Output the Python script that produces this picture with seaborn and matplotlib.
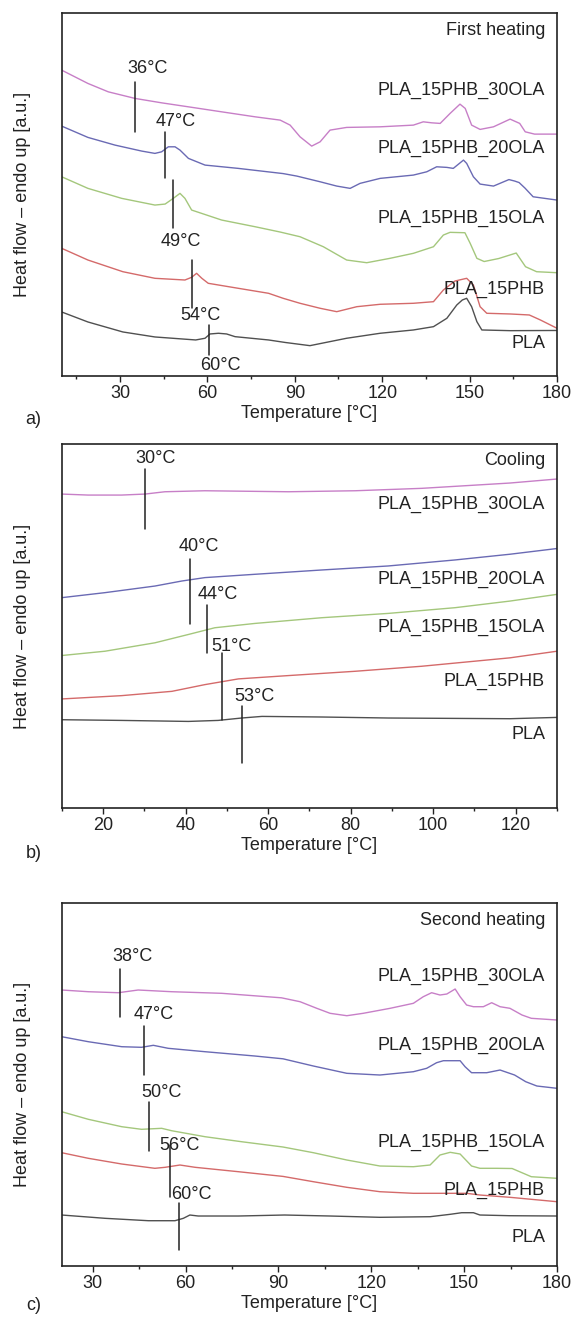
import numpy as np
import pandas as pd
import matplotlib
matplotlib.use('Agg')
import matplotlib.pyplot as plt
from matplotlib.ticker import AutoMinorLocator
import seaborn as sns

# DSC curves: temperature [degC] and heat flow [a.u.]
samples = ['PLA', 'PLA_15PHB', 'PLA_15PHB_15OLA', 'PLA_15PHB_20OLA', 'PLA_15PHB_30OLA']
colors = ['#505050', '#d46a6a', '#a4c77c', '#6a6ab4', '#c77fc7']

# a) first heating
a_pla_T = [10, 19, 31, 42, 56, 59.2, 60.9, 63.8, 66.6, 69.5, 81, 86.7, 95.2, 107.8, 119.3, 130.7,
           137.6, 142.2, 145.6, 147.5, 149, 150.7, 152.5, 154.2, 164, 180]
a_pla_hf = [64, 54, 44, 39, 36, 37.7, 42, 42.7, 42, 39.3, 36, 33.5, 30.3, 37.7, 42.7, 46,
            49.3, 57.7, 71, 76, 77.7, 69.3, 54.3, 46, 45.3, 45.5]
a_phb_T = [10, 19, 31, 42, 52.3, 54.6, 56.3, 58.1, 60.3, 70.6, 81, 86, 91.8, 98.7, 104.4, 111.3,
           119.3, 130.7, 137.6, 141, 145, 149, 151.3, 153.6, 155.9, 164, 170.5, 174.3, 180]
a_phb_hf = [127.7, 116, 104.3, 97.7, 96, 98.7, 102.7, 97.7, 92.7, 87.7, 82.7, 77.7, 72.7, 67.7, 64.3, 69.3,
            71.7, 72.7, 74.3, 86, 95, 97.7, 91, 69.3, 62.7, 62, 61, 56, 47.7]
a_15ola_T = [10, 19, 30.6, 42, 45.5, 48.3, 50.6, 52.3, 54.6, 64.9, 76.4, 85, 91.8, 99.8, 107.8, 114.7,
             122.7, 130.7, 137.6, 141, 143.3, 148.4, 150.2, 152.5, 155, 160, 166, 169.2, 173, 180]
a_15ola_hf = [199.3, 187.7, 177.7, 171, 172, 177.7, 182.7, 177.7, 166, 156, 149.3, 144, 139.3, 129.3, 116, 113.3,
              117.7, 122.7, 129.3, 141, 143.7, 143.3, 132.7, 117.7, 114.5, 117.5, 123, 109.3, 104.3, 103.3]
a_20ola_T = [10, 19, 28.3, 37.5, 42, 44.3, 46.6, 48.9, 50.6, 53.5, 59.2, 70.6, 86, 90.7, 98.7, 104.4, 109,
             112.4, 119.3, 130.7, 135.3, 138.7, 142.2, 144.4, 147.9, 149, 151.3, 153.6, 158.2, 163.5, 165.5,
             167, 169, 171.8, 180]
a_20ola_hf = [250, 238.7, 231, 225, 222.7, 224.3, 229.3, 229.3, 226, 217.7, 211, 207.7, 202.5, 200, 194.3, 190, 187.7,
              192.7, 197.7, 201, 204.3, 209.3, 208.7, 207.7, 216, 212.7, 199.3, 192, 190, 196.5, 195,
              193.5, 188, 179.3, 176]
a_30ola_T = [10, 19, 26, 35.2, 44.3, 53.5, 64.9, 76.4, 85, 88.4, 91.8, 95.8, 98.7, 102.1, 107.8, 119.3, 130.7,
             134.1, 137, 139.9, 143.3, 146.7, 148.5, 150.7, 153.6, 158.2, 163.9, 167.2, 169.1, 172.3, 180]
a_30ola_hf = [306, 292.7, 284.3, 277.7, 273.3, 269.3, 264.3, 259.3, 256, 251, 239.3, 230, 234.3, 246, 248.7, 249.3, 251,
              254.3, 253.3, 252.7, 262.7, 272, 267.7, 251, 246.7, 249.3, 257, 252.7, 244.3, 242, 242]

# b) cooling
b_pla_T = [10, 24.5, 40.7, 47.9, 53.6, 58.5, 73, 89.1, 118.6, 130]
b_pla_hf = [88, 87.3, 86.3, 87.3, 89.7, 91.3, 90.7, 89.7, 89, 90.3]
b_phb_T = [10, 24.5, 36.7, 44.7, 52.8, 64.9, 81.1, 97.2, 118.6, 130]
b_phb_hf = [108.7, 112, 116.3, 123, 128.7, 132, 136.3, 141.3, 149.7, 156.3]
b_15ola_T = [10, 20.5, 32.6, 40.7, 47.1, 56.8, 73, 89.1, 105.3, 118.6, 130]
b_15ola_hf = [152, 156.3, 164.7, 173, 179.7, 184, 189.7, 194, 199.7, 206.3, 213]
b_20ola_T = [10, 20.5, 32.6, 39.1, 44.7, 56.8, 73, 89.1, 105.3, 118.6, 130]
b_20ola_hf = [209.7, 214.7, 221.3, 226.3, 229.7, 233, 237.3, 241.3, 247.3, 253, 258.7]
b_30ola_T = [10, 16.4, 24.5, 30.2, 35, 44.7, 64.9, 81.1, 97.2, 118.6, 130]
b_30ola_hf = [313, 312, 312, 313, 315.3, 316.3, 315.3, 316.3, 318.7, 324, 328]

# c) second heating
c_pla_T = [20, 34, 48, 56.6, 59.3, 61.4, 64.1, 77.1, 92, 106.7, 122.8, 139, 145.5, 149.2, 153, 155.1, 164.8, 180]
c_pla_hf = [51, 47.7, 45.3, 45.3, 47.7, 51, 50, 50, 51, 50, 48.7, 49.3, 51.7, 53.3, 53.3, 51, 50.3, 50]
c_phb_T = [20, 28.6, 39.4, 50.1, 53.4, 58.2, 63.1, 77.1, 91.5, 101.3, 112.1, 122.8, 133.6, 142.2, 150.8, 155.1,
           164.8, 180]
c_phb_hf = [113.3, 107.7, 102, 97.7, 98.7, 101, 98.7, 94.3, 89.6, 84.3, 78.7, 74.3, 72.7, 72.7, 72.7, 71,
            68.7, 64.3]
c_15ola_T = [20, 28.6, 39.4, 45.8, 52.3, 55.5, 66.3, 78.1, 91.5, 101.3, 112.1, 122.8, 133.6, 139, 142.2, 145.5,
             148.7, 152.4, 155.1, 160.5, 165.5, 171.7, 180]
c_15ola_hf = [154.3, 146.7, 139.3, 136.7, 137.7, 135.3, 129.3, 124.3, 119, 113.3, 106, 100, 99.3, 101, 111, 113.7,
              112, 100, 97.7, 97.7, 97.5, 89.3, 87.7]
c_20ola_T = [20, 28.6, 39.4, 45.8, 49.6, 54.4, 66.3, 82.4, 91.5, 101.3, 112.1, 122.8, 133.6, 137.9, 141.1, 143.3,
             148.7, 150.3, 152.4, 157.3, 161.6, 166.3, 169.9, 173.5, 180]
c_20ola_hf = [229.3, 224.3, 219.3, 218.7, 220.7, 217.7, 214.3, 210, 207.2, 200, 192.7, 191, 194.3, 197.7, 203.3, 205.3,
              205.3, 199.3, 193.3, 193.3, 196, 191, 184.3, 180, 177.7]
c_30ola_T = [20, 28.6, 38.3, 44.7, 55.5, 71.7, 91, 97, 102.4, 106.7, 112.1, 117.4, 126.1, 133.6, 136.8, 139.5,
             142.2, 144.4, 147.1, 148.7, 150.8, 153, 156.2, 158.9, 161.6, 164.8, 168.7, 171.7, 180]
c_30ola_hf = [276, 274.3, 273.3, 276, 274.3, 272.7, 268.2, 264.3, 257.7, 252.7, 250.3, 252.7, 257.7, 262.7, 269.3, 273.3,
              271, 272, 277, 269.3, 261, 259.3, 259.3, 263.3, 259.3, 257.7, 251, 247.7, 246]

# transition markers: temperature, line top, line bottom, label
a_marks = [(35.2, 294.3, 244.3, '36°C'), (45.5, 244.3, 197.7, '47°C'), (48.1, 196, 147.7, '49°C'),
           (54.6, 116, 67.7, '54°C'), (60.7, 51, 21, '60°C')]
a_mark_lbl = [(39.6, 307.7), (49.1, 254.3), (51, 134.3), (57.5, 60), (64.3, 10.3)]
b_marks = [(30.3, 338, 278, '30°C'), (41.2, 248.7, 183, '40°C'), (45.3, 202, 154.7, '44°C'),
           (48.8, 154.7, 87.3, '51°C'), (53.8, 101.3, 44.7, '53°C')]
b_mark_lbl = [(32.7, 348), (43.1, 260.7), (47.8, 213), (51.2, 161.3), (56.8, 111.3)]
c_marks = [(38.8, 296.7, 248.7, '38°C'), (46.7, 240, 191, '47°C'), (48.3, 164.3, 115.3, '50°C'),
           (55, 121, 69.3, '56°C'), (58, 63.3, 16, '60°C')]
c_mark_lbl = [(42.8, 309.3), (49.6, 252), (52.1, 173.3), (58.2, 121), (62, 72)]

# sample names on the right side (heat flow level of each name)
a_name_y = [32, 86.7, 157.7, 227.7, 286]
b_name_y = [73, 126.3, 179.7, 228, 303]
c_name_y = [28.7, 76, 123.3, 221, 289.3]

sns.set_theme(style='ticks')
plt.rcParams['font.family'] = ['Liberation Sans', 'DejaVu Sans']

fig = plt.figure(figsize=(5.75, 13.2), dpi=100)

panels = [
    dict(pos=[0.1073, 0.7152, 0.8614, 0.2748], xlim=(10, 180), xticks=[30, 60, 90, 120, 150, 180],
         curves=[(a_pla_T, a_pla_hf), (a_phb_T, a_phb_hf), (a_15ola_T, a_15ola_hf),
                 (a_20ola_T, a_20ola_hf), (a_30ola_T, a_30ola_hf)],
         marks=a_marks, mark_lbl=a_mark_lbl, name_y=a_name_y, title='First heating', tag='a)', tag_y=420),
    dict(pos=[0.1073, 0.3879, 0.8614, 0.2758], xlim=(10, 130), xticks=[20, 40, 60, 80, 100, 120],
         curves=[(b_pla_T, b_pla_hf), (b_phb_T, b_phb_hf), (b_15ola_T, b_15ola_hf),
                 (b_20ola_T, b_20ola_hf), (b_30ola_T, b_30ola_hf)],
         marks=b_marks, mark_lbl=b_mark_lbl, name_y=b_name_y, title='Cooling', tag='b)', tag_y=854),
    dict(pos=[0.1073, 0.0409, 0.8614, 0.2750], xlim=(20, 180), xticks=[30, 60, 90, 120, 150, 180],
         curves=[(c_pla_T, c_pla_hf), (c_phb_T, c_phb_hf), (c_15ola_T, c_15ola_hf),
                 (c_20ola_T, c_20ola_hf), (c_30ola_T, c_30ola_hf)],
         marks=c_marks, mark_lbl=c_mark_lbl, name_y=c_name_y, title='Second heating', tag='c)', tag_y=1306),
]

fs = 13
for p in panels:
    ax = fig.add_axes(p['pos'])
    frames = []
    for name, (T, hf) in zip(samples, p['curves']):
        frames.append(pd.DataFrame({'T': T, 'hf': hf, 'sample': name}))
    df = pd.concat(frames, ignore_index=True)
    sns.lineplot(data=df, x='T', y='hf', hue='sample', hue_order=samples, palette=colors,
                 estimator=None, sort=False, linewidth=1.0, legend=False, ax=ax)

    for (t, y0, y1, lbl), (lx, ly) in zip(p['marks'], p['mark_lbl']):
        ax.plot([t, t], [y0, y1], color='#222222', lw=1.1)
        ax.text(lx, ly, lbl, ha='center', va='center', fontsize=fs, color='#222222')

    tr = ax.get_yaxis_transform()
    for name, y in zip(samples, p['name_y']):
        ax.text(0.976, y, name, transform=tr, ha='right', va='center', fontsize=fs, color='#222222')
    ax.text(0.976, 346, p['title'], transform=tr, ha='right', va='center', fontsize=fs, color='#222222')

    ax.set_xlim(*p['xlim'])
    ax.set_ylim(0, 363)
    ax.set_xticks(p['xticks'])
    ax.xaxis.set_minor_locator(AutoMinorLocator(2))
    ax.set_yticks([])
    ax.tick_params(axis='x', which='major', direction='out', length=4, width=1, pad=2.6,
                   labelsize=fs, colors='#222222')
    ax.tick_params(axis='x', which='minor', direction='out', length=2.4, width=1, colors='#222222')
    for s in ax.spines.values():
        s.set_visible(True)
        s.set_linewidth(1.2)
        s.set_color('#222222')
    ax.set_xlabel('Temperature [°C]', fontsize=fs, labelpad=2, color='#222222')
    ax.set_ylabel('Heat flow – endo up [a.u.]', fontsize=fs, color='#222222')
    ax.yaxis.set_label_coords(-0.062, 0.5)
    fig.text(33.7 / 575, 1 - p['tag_y'] / 1320, p['tag'], ha='center', va='center', fontsize=fs,
             color='#222222')

fig.savefig('out.png', dpi=100)
